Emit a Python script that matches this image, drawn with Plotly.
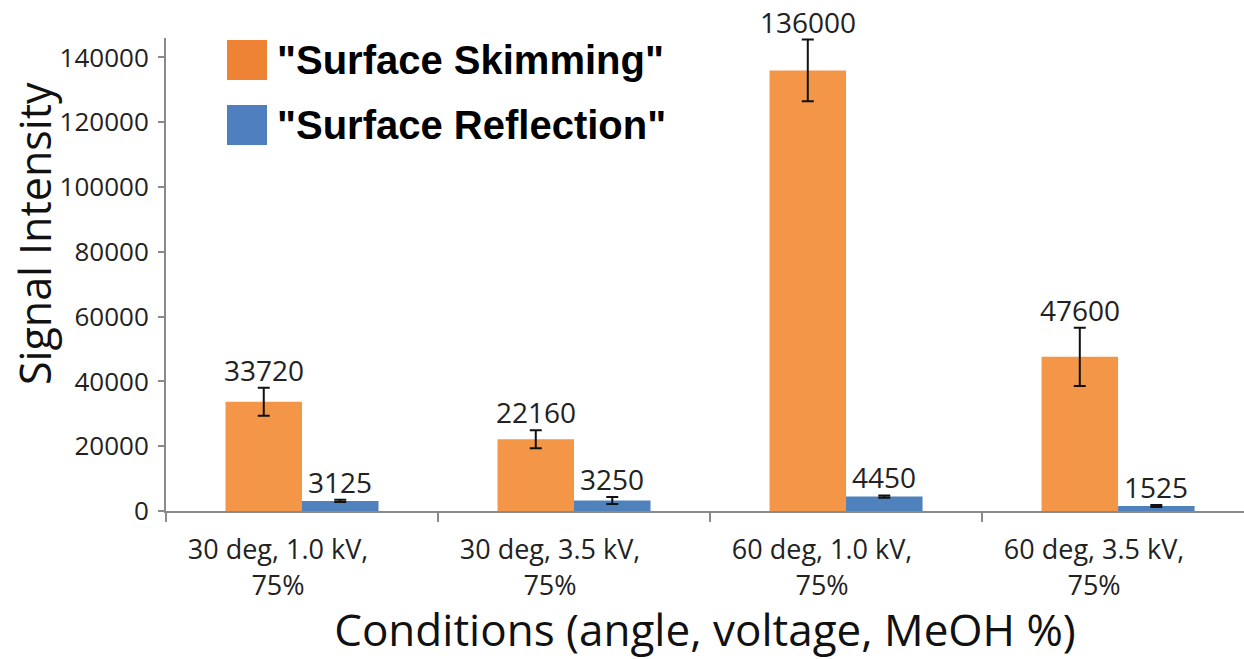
import plotly.graph_objects as go

categories = ["30 deg, 1.0 kV,<br>75%", "30 deg, 3.5 kV,<br>75%",
              "60 deg, 1.0 kV,<br>75%", "60 deg, 3.5 kV,<br>75%"]
skimming = [33720, 22160, 136000, 47600]
skimming_err = [4300, 2800, 9500, 9000]
reflection = [3125, 3250, 4450, 1525]
reflection_err = [350, 1100, 350, 300]
series_names = ['"Surface Skimming"', '"Surface Reflection"']
y_ticks = [0, 20000, 40000, 60000, 80000, 100000, 120000, 140000]
x_title = "Conditions (angle, voltage, MeOH %)"
y_title = "Signal Intensity"

W, H = 1244, 659
ML, MR, MT, MB = 166, 0, 38, 148
XMAX = 3.463
BARGAP = 0.4375
ORANGE = "#F39648"
BLUE = "#4F81BD"
FONT = "Open Sans"

plot_w = W - ML - MR
plot_h = H - MT - MB


def px_x(px):
    return (px - ML) / plot_w


def px_y(py):
    return (H - MB - py) / plot_h


fig = go.Figure()
fig.add_trace(go.Bar(x=categories, y=skimming, name=series_names[0],
                     marker=dict(color=ORANGE, line=dict(width=0)),
                     error_y=dict(type="data", array=skimming_err, color="#111",
                                  thickness=2, width=6),
                     showlegend=False))
fig.add_trace(go.Bar(x=categories, y=reflection, name=series_names[1],
                     marker=dict(color=BLUE, line=dict(width=0)),
                     error_y=dict(type="data", array=reflection_err, color="#111",
                                  thickness=2, width=6),
                     showlegend=False))

# value labels above error bars
px_per_cat = plot_w / (XMAX + 0.5)
bar_w = px_per_cat * (1 - BARGAP) / 2
for vals, errs, sign in [(skimming, skimming_err, -1), (reflection, reflection_err, 1)]:
    for c, v, e in zip(categories, vals, errs):
        fig.add_annotation(x=c, y=v + e, xref="x", yref="y", text=f"{v}",
                           showarrow=False, xshift=sign * bar_w / 2, yshift=-3,
                           yanchor="bottom",
                           font=dict(family=FONT, size=28, color="#222"))

# custom legend
legend_items = [(series_names[0], "#EE8235", 60), (series_names[1], "#4F7FBF", 125)]
for name, col, yc in legend_items:
    fig.add_shape(type="rect", xref="paper", yref="paper",
                  x0=px_x(227), x1=px_x(267), y0=px_y(yc + 20), y1=px_y(yc - 20),
                  fillcolor=col, line=dict(width=0), layer="above")
    fig.add_annotation(xref="paper", yref="paper", x=px_x(275), y=px_y(yc),
                       xanchor="left", yanchor="middle", showarrow=False,
                       text=f"<b>{name}</b>",
                       font=dict(family="Liberation Sans, Arial", size=40, color="#000"))

# y axis title
fig.add_annotation(xref="paper", yref="paper", x=px_x(34), y=px_y(234),
                   xanchor="center", yanchor="middle", showarrow=False,
                   text=y_title, textangle=-90,
                   font=dict(family=FONT, size=43, color="#111"))

fig.update_layout(
    width=W, height=H,
    margin=dict(l=ML, r=MR, t=MT, b=MB, pad=0),
    paper_bgcolor="white", plot_bgcolor="white",
    barmode="group", bargap=BARGAP, bargroupgap=0,
    font=dict(family=FONT, color="#222"),
    xaxis=dict(range=[-0.5, XMAX], tickson="boundaries", ticks="outside",
               ticklen=9, tickwidth=2, tickcolor="#8a8a8a",
               showline=True, linecolor="#8a8a8a", linewidth=2,
               showgrid=False, zeroline=False,
               tickfont=dict(family=FONT, size=27, color="#222"),
               ticklabelshift=-24, ticklabelstandoff=14,
               title=dict(text=x_title,
                          font=dict(family=FONT, size=44, color="#111"), standoff=16)),
    yaxis=dict(range=[0, 146000], tickvals=y_ticks, ticktext=[str(t) for t in y_ticks],
               ticks="outside", ticklen=6, tickwidth=2, tickcolor="#8a8a8a",
               showline=True, linecolor="#8a8a8a", linewidth=2,
               showgrid=False, zeroline=False,
               tickfont=dict(family=FONT, size=26, color="#222"),
               ticklabelstandoff=4),
)

fig.write_html("out.html")
